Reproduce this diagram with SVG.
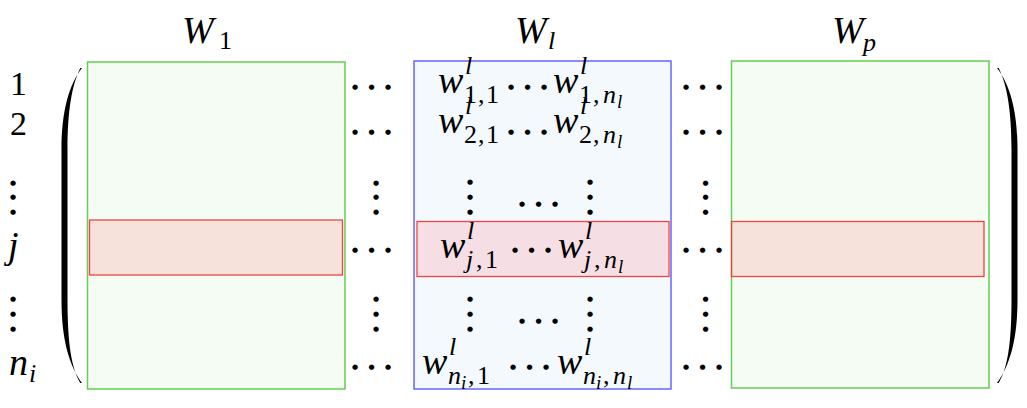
<svg xmlns="http://www.w3.org/2000/svg" width="1027" height="408" viewBox="0 0 1027 408">
<style>
text{font-family:"Liberation Serif","Times New Roman",serif;fill:#000}
.m{font-size:38px}
.n{font-size:34px}
.it{font-style:italic}
.s{font-size:26px}
.ss{font-size:19px}
.dot{font-family:"DejaVu Sans",sans-serif;font-size:7px;text-anchor:middle}
.green{fill:#f5fcf3;stroke:#66cc55;stroke-width:1.5}
.blue{fill:#f4f9fe;stroke:#6666ff;stroke-width:1.5}
.red{fill:#ff0000;fill-opacity:0.1;stroke:#ee4444;stroke-width:1.3}
.paren{fill:#000}
</style>
<rect width="1027" height="408" fill="#fff"/>

<g id="header-labels">
  <text id="label-W1"><tspan class="m it" x="182" y="43">W</tspan><tspan class="s" x="219" y="49">1</tspan></text>
  <text id="label-Wl"><tspan class="m it" x="515" y="43">W</tspan><tspan class="s it" x="548" y="49">l</tspan></text>
  <text id="label-Wp"><tspan class="m it" x="832" y="43">W</tspan><tspan class="s it" x="863" y="51">p</tspan></text>
</g>

<g id="row-labels">
  <text class="n" x="10" y="95">1</text>
  <text class="n" x="10" y="135">2</text>
  <text class="dot"><tspan x="13" y="184.6">●</tspan><tspan x="13" y="199.1">●</tspan><tspan x="13" y="213.6">●</tspan></text>
  <text class="m it" x="8" y="258">j</text>
  <text class="dot"><tspan x="13" y="300.6">●</tspan><tspan x="13" y="315.6">●</tspan><tspan x="13" y="330.6">●</tspan></text>
  <text><tspan class="m it" x="9" y="375">n</tspan><tspan class="s it" x="29" y="382">i</tspan></text>
</g>

<g id="parentheses">
  <path class="paren" d="M82,68 C69.5,84 61.5,110 61.5,150 L61.5,300 C61.5,340 69.5,366 82,383 L80.3,383 C71.5,368 67.5,344 67.5,300 L67.5,150 C67.5,112 71.5,86 80.3,68 Z"/>
  <path class="paren" d="M997,68 C1009.5,84 1017.5,110 1017.5,150 L1017.5,300 C1017.5,340 1009.5,366 997,383 L998.7,383 C1007.5,368 1011.5,344 1011.5,300 L1011.5,150 C1011.5,112 1007.5,86 998.7,68 Z"/>
</g>

<g id="W1">
  <rect class="green" x="87.5" y="62" width="257.5" height="327"/>
  <rect id="W1-row-j" class="red" x="89.5" y="220" width="253" height="55"/>
</g>

<g id="Wl">
  <rect class="blue" x="414" y="61" width="257" height="328"/>
  <rect id="Wl-row-j" class="red" x="417" y="221.5" width="252" height="55"/>
  <!-- row 1 -->
  <text><tspan class="m it" x="438" y="93">w</tspan><tspan class="s it" x="465" y="74">l</tspan><tspan class="s" x="464" y="103">1</tspan><tspan class="s" x="478" y="103">,</tspan><tspan class="s" x="486" y="103">1</tspan></text>
  <text class="dot"><tspan x="511" y="88.6">●</tspan><tspan x="527.5" y="88.6">●</tspan><tspan x="544" y="88.6">●</tspan></text>
  <text><tspan class="m it" x="553" y="93">w</tspan><tspan class="s it" x="580" y="74">l</tspan><tspan class="s" x="579" y="103">1</tspan><tspan class="s" x="593" y="103">,</tspan><tspan class="s it" x="603" y="103">n</tspan><tspan class="ss it" x="617" y="108">l</tspan></text>
  <!-- row 2 -->
  <text><tspan class="m it" x="438" y="133">w</tspan><tspan class="s it" x="465" y="114">l</tspan><tspan class="s" x="464" y="143">2</tspan><tspan class="s" x="478" y="143">,</tspan><tspan class="s" x="486" y="143">1</tspan></text>
  <text class="dot"><tspan x="511" y="133.6">●</tspan><tspan x="527.5" y="133.6">●</tspan><tspan x="544" y="133.6">●</tspan></text>
  <text><tspan class="m it" x="553" y="133">w</tspan><tspan class="s it" x="580" y="114">l</tspan><tspan class="s" x="579" y="143">2</tspan><tspan class="s" x="593" y="143">,</tspan><tspan class="s it" x="603" y="143">n</tspan><tspan class="ss it" x="617" y="148">l</tspan></text>
  <!-- vdots row -->
  <text class="dot"><tspan x="470" y="183.6">●</tspan><tspan x="470" y="198.6">●</tspan><tspan x="470" y="213.6">●</tspan></text>
  <text class="dot"><tspan x="522" y="205.6">●</tspan><tspan x="538.5" y="205.6">●</tspan><tspan x="555" y="205.6">●</tspan></text>
  <text class="dot"><tspan x="590" y="183.6">●</tspan><tspan x="590" y="198.6">●</tspan><tspan x="590" y="213.6">●</tspan></text>
  <!-- row j -->
  <text><tspan class="m it" x="440" y="258">w</tspan><tspan class="s it" x="467" y="239">l</tspan><tspan class="s it" x="466" y="268">j</tspan><tspan class="s" x="476" y="268">,</tspan><tspan class="s" x="485" y="268">1</tspan></text>
  <text class="dot"><tspan x="515" y="251.6">●</tspan><tspan x="531.5" y="251.6">●</tspan><tspan x="548" y="251.6">●</tspan></text>
  <text><tspan class="m it" x="558" y="258">w</tspan><tspan class="s it" x="585" y="239">l</tspan><tspan class="s it" x="584" y="268">j</tspan><tspan class="s" x="594" y="268">,</tspan><tspan class="s it" x="604" y="268">n</tspan><tspan class="ss it" x="618" y="273">l</tspan></text>
  <!-- vdots row 2 -->
  <text class="dot"><tspan x="470" y="300.6">●</tspan><tspan x="470" y="315.6">●</tspan><tspan x="470" y="330.6">●</tspan></text>
  <text class="dot"><tspan x="522" y="322.6">●</tspan><tspan x="538.5" y="322.6">●</tspan><tspan x="555" y="322.6">●</tspan></text>
  <text class="dot"><tspan x="590" y="300.6">●</tspan><tspan x="590" y="315.6">●</tspan><tspan x="590" y="330.6">●</tspan></text>
  <!-- row n_i -->
  <text><tspan class="m it" x="422" y="374">w</tspan><tspan class="s it" x="449" y="355">l</tspan><tspan class="s it" x="448" y="384">n</tspan><tspan class="ss it" x="461" y="389">i</tspan><tspan class="s" x="468" y="384">,</tspan><tspan class="s" x="477" y="384">1</tspan></text>
  <text class="dot"><tspan x="513" y="368.6">●</tspan><tspan x="529.5" y="368.6">●</tspan><tspan x="546" y="368.6">●</tspan></text>
  <text><tspan class="m it" x="557" y="374">w</tspan><tspan class="s it" x="584" y="355">l</tspan><tspan class="s it" x="583" y="384">n</tspan><tspan class="ss it" x="596" y="389">i</tspan><tspan class="s" x="603" y="384">,</tspan><tspan class="s it" x="613" y="384">n</tspan><tspan class="ss it" x="627" y="389">l</tspan></text>
</g>

<g id="Wp">
  <rect class="green" x="731.5" y="61" width="257.5" height="327"/>
  <rect id="Wp-row-j" class="red" x="731.5" y="221.5" width="252.5" height="55"/>
</g>

<g id="between-dots">
  <text class="dot"><tspan x="355" y="88.6">●</tspan><tspan x="371.5" y="88.6">●</tspan><tspan x="388" y="88.6">●</tspan></text>
  <text class="dot"><tspan x="355" y="133.6">●</tspan><tspan x="371.5" y="133.6">●</tspan><tspan x="388" y="133.6">●</tspan></text>
  <text class="dot"><tspan x="376" y="184.6">●</tspan><tspan x="376" y="199.1">●</tspan><tspan x="376" y="213.6">●</tspan></text>
  <text class="dot"><tspan x="355" y="251.6">●</tspan><tspan x="371.5" y="251.6">●</tspan><tspan x="388" y="251.6">●</tspan></text>
  <text class="dot"><tspan x="376" y="300.6">●</tspan><tspan x="376" y="315.6">●</tspan><tspan x="376" y="330.6">●</tspan></text>
  <text class="dot"><tspan x="355" y="368.6">●</tspan><tspan x="371.5" y="368.6">●</tspan><tspan x="388" y="368.6">●</tspan></text>

  <text class="dot"><tspan x="686" y="88.6">●</tspan><tspan x="702.5" y="88.6">●</tspan><tspan x="719" y="88.6">●</tspan></text>
  <text class="dot"><tspan x="686" y="133.6">●</tspan><tspan x="702.5" y="133.6">●</tspan><tspan x="719" y="133.6">●</tspan></text>
  <text class="dot"><tspan x="705.5" y="184.6">●</tspan><tspan x="705.5" y="199.1">●</tspan><tspan x="705.5" y="213.6">●</tspan></text>
  <text class="dot"><tspan x="686" y="251.6">●</tspan><tspan x="702.5" y="251.6">●</tspan><tspan x="719" y="251.6">●</tspan></text>
  <text class="dot"><tspan x="705.5" y="300.6">●</tspan><tspan x="705.5" y="315.6">●</tspan><tspan x="705.5" y="330.6">●</tspan></text>
  <text class="dot"><tspan x="686" y="368.6">●</tspan><tspan x="702.5" y="368.6">●</tspan><tspan x="719" y="368.6">●</tspan></text>
</g>
</svg>
